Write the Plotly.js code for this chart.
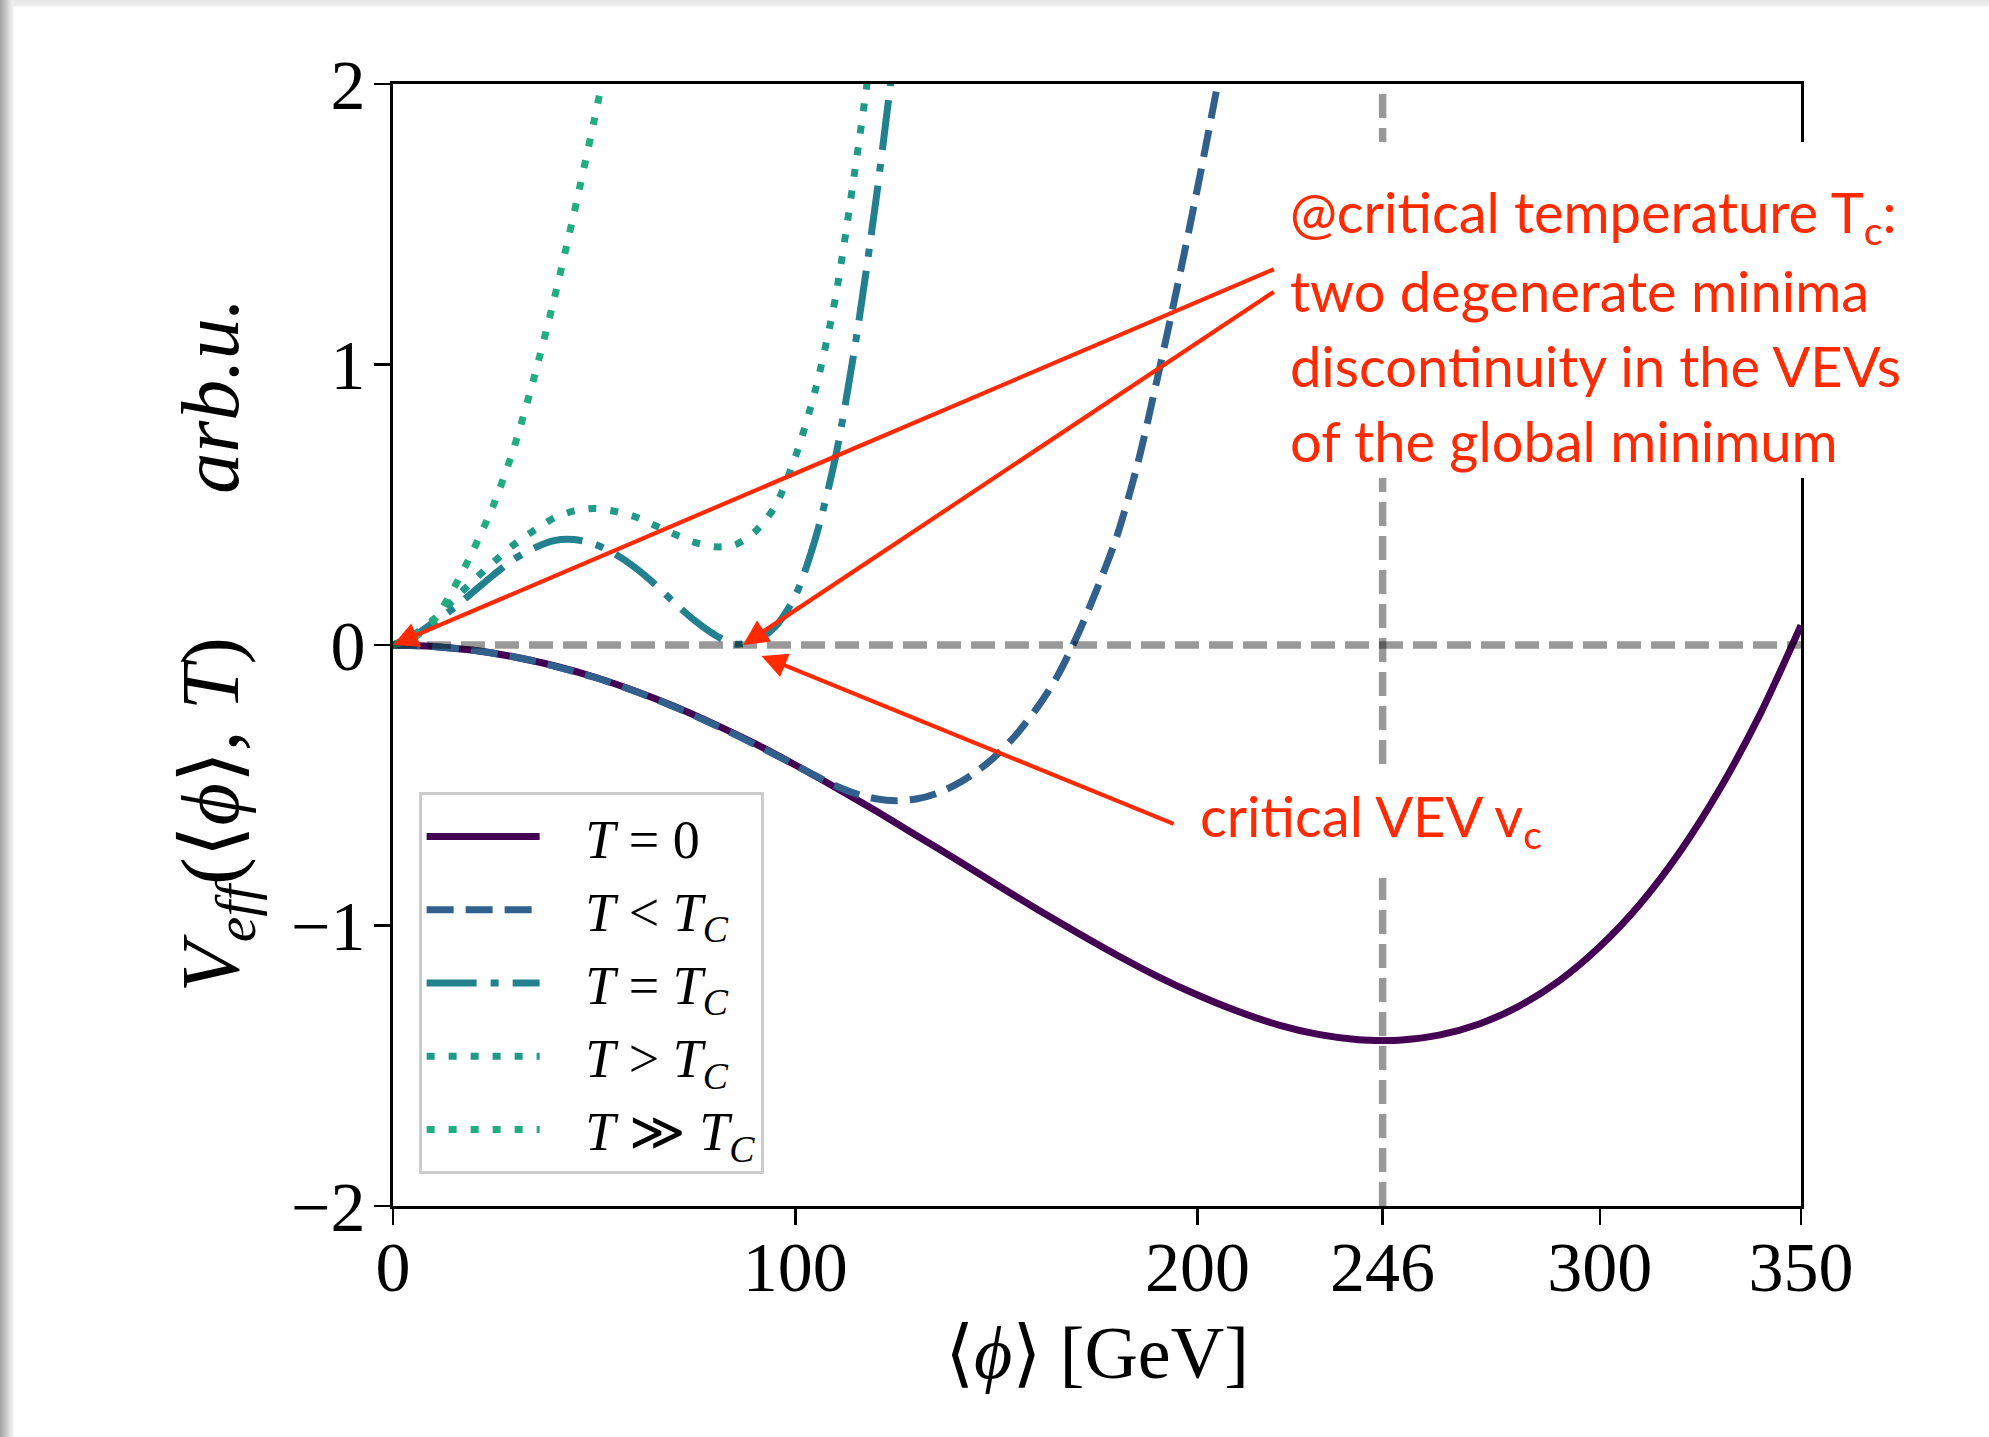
<!DOCTYPE html>
<html>
<head>
<meta charset="utf-8">
<script src="https://cdn.plot.ly/plotly-3.0.1.min.js"></script>
<style>
  html, body { margin: 0; padding: 0; }
  body {
    width: 1989px; height: 1437px; overflow: hidden;
    background:
      linear-gradient(to right, #a2a2a2 0px, #c2c2c2 5px, #e2e2e2 10px, #f3f3f3 13px, rgba(255,255,255,0) 14px) 0 0 / 14px 100% no-repeat,
      linear-gradient(to bottom, #e6e6e6 0px, #ececec 5px, rgba(255,255,255,0) 8px) 0 0 / 100% 8px no-repeat,
      #ffffff;
  }
  #chart { width: 1989px; height: 1437px; }
</style>
</head>
<body>
<div id="chart"></div>
<script>
// Effective potential V_eff(<phi>, T) in arbitrary units, for several temperatures.

// T = 0
const phiT0 = [0,10,20,30,40,50,60,70,80,90,100,110,120,130,140,150,160,170,180,190,200,
               210,220,230,240,246,250,260,270,280,290,300,310,320,330,340,350];
const vT0   = [0,-0.005,-0.019,-0.042,-0.074,-0.114,-0.163,-0.219,-0.283,-0.352,-0.428,-0.508,
               -0.591,-0.678,-0.765,-0.854,-0.941,-1.025,-1.106,-1.181,-1.248,-1.306,-1.354,
               -1.388,-1.407,-1.410,-1.409,-1.391,-1.351,-1.287,-1.196,-1.075,-0.923,-0.735,
               -0.509,-0.242,0.070];

// T < T_C
const phiBelow = [0,10,20,30,40,50,60,70,80,90,100,105,110,115,120,125,130,135,140,145,150,
                  155,160,165,170,175,180,185,190,195,200,205,208];
const vBelow   = [0,-0.005,-0.019,-0.042,-0.075,-0.115,-0.164,-0.221,-0.285,-0.355,-0.428,
                  -0.466,-0.502,-0.530,-0.548,-0.555,-0.549,-0.530,-0.497,-0.452,-0.393,
                  -0.318,-0.226,-0.115,0.030,0.200,0.390,0.640,0.950,1.280,1.630,2.000,2.230];

// T = T_C
const phiCrit = [0,5,10,15,20,25,30,35,40,45,50,55,60,65,70,75,80,85,90,95,100,105,110,115,120,124,126];
const vCrit   = [0,0.030,0.080,0.130,0.190,0.250,0.305,0.345,0.372,0.376,0.360,0.326,0.278,
                 0.218,0.150,0.087,0.036,0.003,0.015,0.065,0.175,0.380,0.670,1.080,1.580,2.040,2.280];

// T > T_C
const phiAbove = [0,5,10,15,20,25,30,35,40,45,50,55,60,65,70,75,80,85,90,95,100,105,110,115,118,120];
const vAbove   = [0,0.035,0.090,0.160,0.230,0.295,0.357,0.408,0.452,0.478,0.487,0.477,0.458,
                  0.427,0.395,0.366,0.350,0.357,0.404,0.495,0.670,0.910,1.240,1.710,2.020,2.240];

// T >> T_C
const phiHigh = [0,5,10,15,20,25,30,35,40,45,50,53,55];
const vHigh   = [0,0.025,0.085,0.200,0.340,0.500,0.700,0.950,1.230,1.540,1.870,2.080,2.230];

// reference lines: zero level and the T = 0 vacuum expectation value
const vevT0 = 246;
const xRange = [0, 350];
const yRange = [-2, 2];

// axis ticks
const xTicks = [0, 100, 200, 246, 300, 350];
const xTickText = ['0', '100', '200', '246', '300', '350'];
const yTicks = [-2, -1, 0, 1, 2];

// legend labels
const seriesNames = [
  '<i>T</i> = 0',
  '<i>T</i> &lt; <i>T</i><sub><i>C</i></sub>',
  '<i>T</i> = <i>T</i><sub><i>C</i></sub>',
  '<i>T</i> &gt; <i>T</i><sub><i>C</i></sub>',
  '<i>T</i> \u226B <i>T</i><sub><i>C</i></sub>'
];

const LW = 7;
const serif = 'Liberation Serif, DejaVu Serif, serif';
const red = '#ff2a00';
const handFont = 'Lato, Noto Sans, sans-serif';
const nb = '\u00A0';

function curve(x, y, name, color, dash) {
  return {
    x: x, y: y, name: nb.repeat(3) + name, type: 'scatter', mode: 'lines',
    line: { color: color, width: LW, dash: dash, shape: 'spline', smoothing: 0.8 },
    hoverinfo: 'skip'
  };
}

const guide = { color: 'rgba(0,0,0,0.4)', width: 7.5, dash: '24px,10px' };

const traces = [
  curve(phiT0, vT0, seriesNames[0], '#440154', 'solid'),
  curve(phiBelow, vBelow, seriesNames[1], '#31608d', '27px,12px'),
  curve(phiCrit, vCrit, seriesNames[2], '#23808e', '50px,14px,8px,14px'),
  curve(phiAbove, vAbove, seriesNames[3], '#1f9a88', '8px,14px'),
  curve(phiHigh, vHigh, seriesNames[4], '#21ad80', '8px,14px'),
  { x: xRange, y: [0, 0], mode: 'lines', line: guide, showlegend: false, hoverinfo: 'skip' },
  { x: [vevT0, vevT0], y: yRange, mode: 'lines', line: guide, showlegend: false, hoverinfo: 'skip' }
];

const yTitle = '<i>V</i><sub><i>eff</i></sub>(\u27E8<i>\u03D5</i>\u27E9, <i>T</i>)' +
               nb.repeat(7) + '<i>arb.u.</i>';

function note(text, x, y) {
  return {
    xref: 'paper', yref: 'paper', x: x, y: y, xanchor: 'left', yanchor: 'middle',
    text: text, showarrow: false,
    font: { family: handFont, size: 56, color: red }
  };
}

function arrow(tip, tail) {
  return {
    xref: 'x', yref: 'y', axref: 'x', ayref: 'y',
    x: tip[0], y: tip[1], ax: tail[0], ay: tail[1],
    text: ' ', showarrow: true, arrowhead: 2, arrowsize: 1.2, arrowwidth: 4.2,
    arrowcolor: red, standoff: 0, startstandoff: 0
  };
}

const layout = {
  width: 1989, height: 1437,
  margin: { l: 393, r: 188, t: 84, b: 231, pad: 0 },
  paper_bgcolor: 'rgba(0,0,0,0)',
  plot_bgcolor: '#ffffff',
  showlegend: true,
  xaxis: {
    range: xRange, tickvals: xTicks, ticktext: xTickText,
    ticks: 'outside', ticklen: 16, tickwidth: 2.6, tickcolor: '#000',
    showline: true, linecolor: '#000', linewidth: 2.6, mirror: true,
    showgrid: false, zeroline: false, ticklabelstandoff: -18,
    tickfont: { family: serif, size: 70, color: '#000' },
    title: { text: '\u27E8<i>\u03D5</i>\u27E9 [GeV]', font: { family: serif, size: 74, color: '#000' }, standoff: 22 }
  },
  yaxis: {
    range: yRange, tickvals: yTicks,
    ticks: 'outside', ticklen: 16, tickwidth: 2.6, tickcolor: '#000',
    showline: true, linecolor: '#000', linewidth: 2.6, mirror: true,
    showgrid: false, zeroline: false, ticklabelstandoff: -5,
    tickfont: { family: serif, size: 70, color: '#000' },
    title: { text: yTitle, font: { family: serif, size: 82, color: '#000' }, standoff: 26 }
  },
  legend: {
    x: 0.0182, y: 0.369, xanchor: 'left', yanchor: 'top',
    bgcolor: 'rgba(255,255,255,0.8)', bordercolor: '#cccccc', borderwidth: 3,
    font: { family: serif, size: 54, color: '#000' },
    itemwidth: 113, tracegroupgap: 0
  },
  shapes: [
    { type: 'rect', xref: 'paper', yref: 'paper', x0: 0.6286, x1: 1.127, y0: 0.6488, y1: 0.9483,
      fillcolor: '#ffffff', line: { width: 0 }, layer: 'above' },
    { type: 'rect', xref: 'paper', yref: 'paper', x0: 0.5575, x1: 0.843, y0: 0.2923, y1: 0.3922,
      fillcolor: '#ffffff', line: { width: 0 }, layer: 'above' }
  ],
  annotations: [
    arrow([0, 0], [219.7, 1.344]),
    arrow([87, 0], [219.7, 1.266]),
    arrow([91.6, -0.039], [194.8, -0.642]),
    note('@critical temperature T<sub>c</sub>:', 0.6356, 0.8827),
    note('two degenerate minima', 0.6356, 0.8160),
    note('discontinuity in the VEVs', 0.6356, 0.7493),
    note('of the global minimum', 0.6356, 0.6825),
    note('critical VEV v<sub>c</sub>', 0.5715, 0.3449)
  ]
};

Plotly.newPlot('chart', traces, layout, { staticPlot: true, displayModeBar: false });
</script>
</body>
</html>
